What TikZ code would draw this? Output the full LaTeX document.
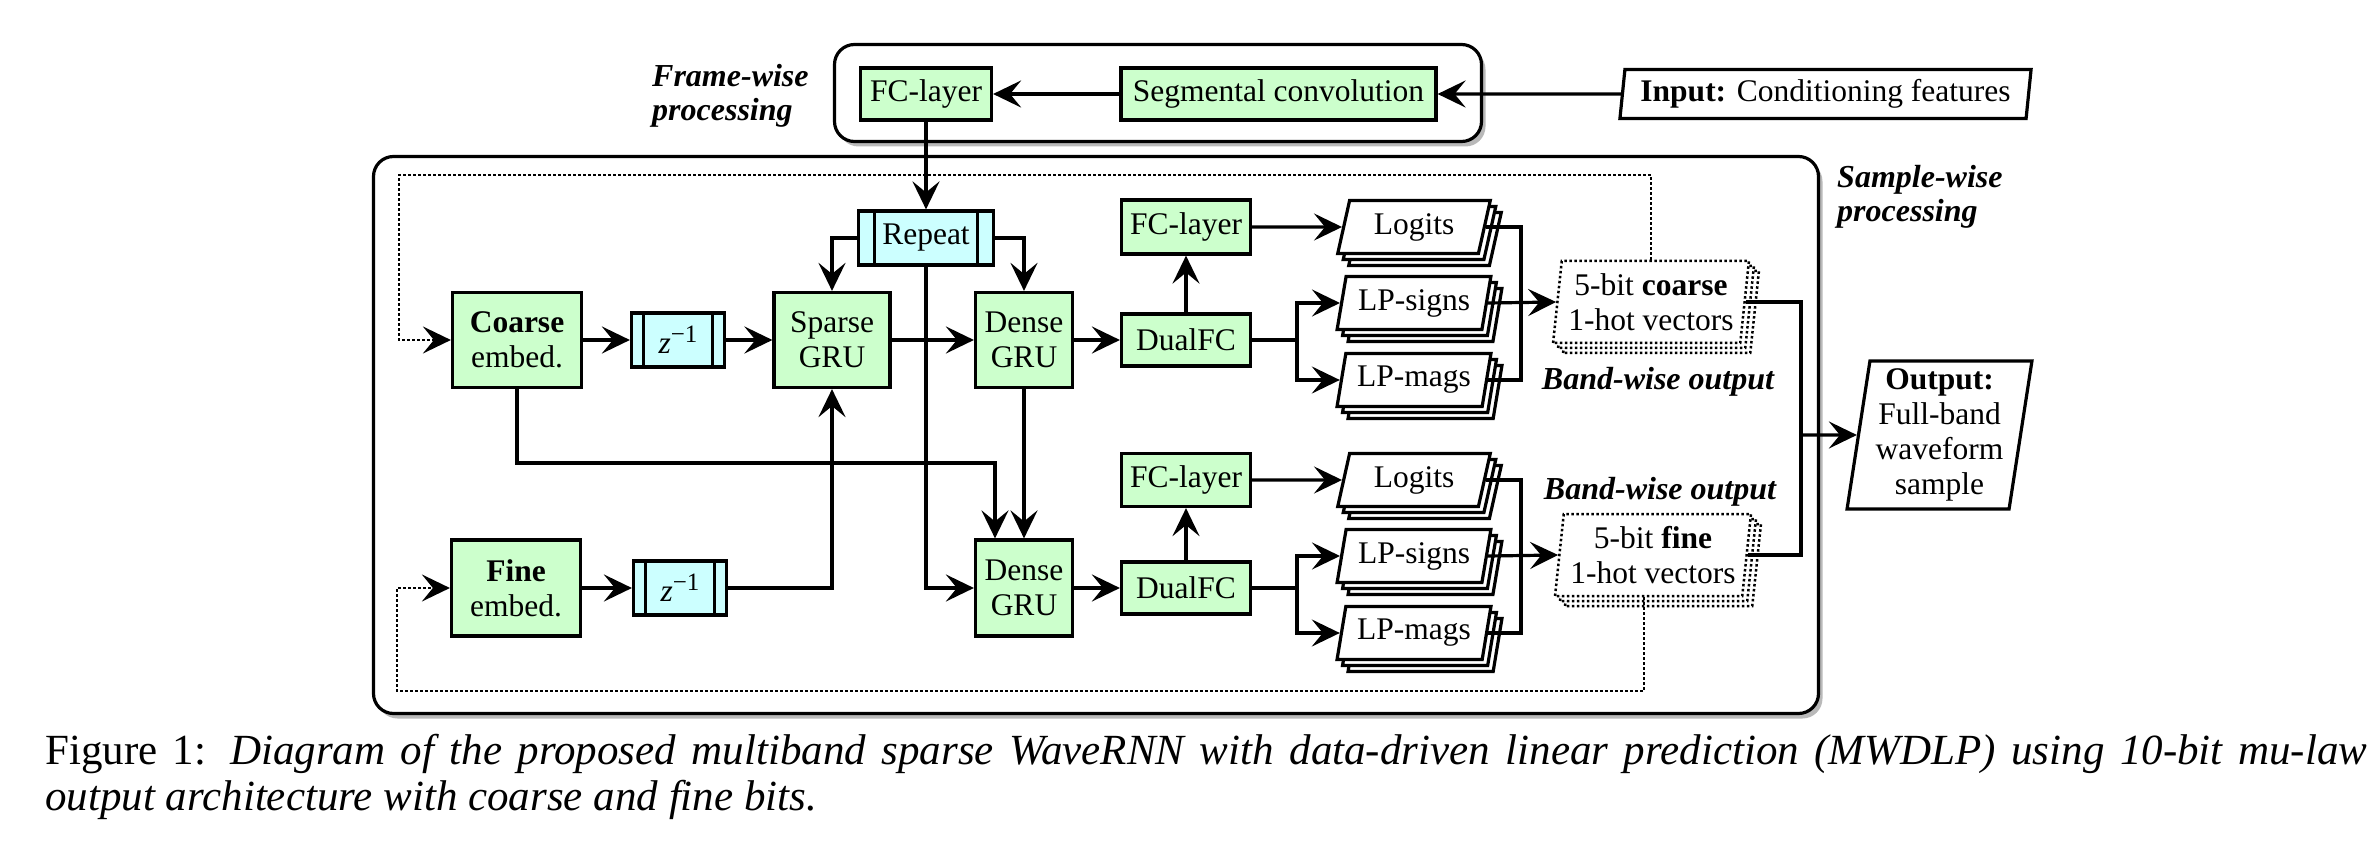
\documentclass[tikz,border=0pt]{standalone}
\usepackage{fontspec}
\setmainfont{Liberation Serif}
\usetikzlibrary{shapes.geometric,arrows.meta,shadows}
\definecolor{gfill}{RGB}{204,255,204}
\definecolor{cfill}{RGB}{204,255,255}
\tikzset{
  base/.style={draw, line width=3.2pt, inner sep=0pt, align=center, font=\fontsize{31.5}{35}\selectfont},
  gbox/.style={base, rectangle, fill=gfill},
  pbox/.style={base, rectangle, fill=cfill, path picture={
      \draw[line width=3.2pt] ([xshift=#1]path picture bounding box.north west) -- ([xshift=#1]path picture bounding box.south west);
      \draw[line width=3.2pt] ([xshift=-#1]path picture bounding box.north east) -- ([xshift=-#1]path picture bounding box.south east);}},
  stk/.style={base, trapezium, trapezium left angle=75, trapezium right angle=105, trapezium stretches=true, fill=white,
      copy shadow={shadow xshift=11pt, shadow yshift=-12pt, draw, fill=white, line width=3.2pt},
      copy shadow={shadow xshift=5.5pt, shadow yshift=-6pt, draw, fill=white, line width=3.2pt},
      minimum width=154pt, minimum height=53pt},
  dstk/.style={base, line width=2.5pt, dash pattern=on 2.5pt off 2.5pt, trapezium, trapezium left angle=82, trapezium right angle=98, trapezium stretches=true, fill=white,
      copy shadow={shadow xshift=10pt, shadow yshift=-10pt, draw, fill=white, line width=2.5pt, dash pattern=on 2.5pt off 2.5pt},
      copy shadow={shadow xshift=5pt, shadow yshift=-5pt, draw, fill=white, line width=2.5pt, dash pattern=on 2.5pt off 2.5pt},
      minimum width=196pt, minimum height=82pt},
  iobox/.style={base, trapezium, trapezium left angle=81, trapezium right angle=99, trapezium stretches=true, fill=white},
  bigbox/.style={draw, line width=3.2pt, rounded corners=20pt, fill=white, inner sep=0pt,
      drop shadow={shadow xshift=4pt, shadow yshift=-5pt, opacity=.55}},
  lbl/.style={font=\fontsize{32}{34}\selectfont\bfseries\itshape, inner sep=0pt, align=left},
  arr/.style={line width=3.2pt, -{Stealth[length=28pt, width=27pt, inset=11pt]}},
  ln/.style={line width=3.2pt},
  darr/.style={line width=2.5pt, dash pattern=on 2.5pt off 2.5pt, -{Stealth[length=28pt, width=27pt, inset=11pt]}},
  capt/.style={inner sep=0pt, anchor=base west, font=\fontsize{43}{46}\selectfont},
}
\newcommand{\zinv}{\textit{z}\raisebox{11pt}{\fontsize{25}{25}\selectfont −1}}
\begin{document}
\begin{tikzpicture}[x=1pt,y=-1pt]
\useasboundingbox (0,0) rectangle (2378,850);
\fill[white] (0,0) rectangle (2378,850);

% containers
\node[bigbox, minimum width=647pt, minimum height=97pt] (frame) at (1158,93) {};
\node[bigbox, minimum width=1445pt, minimum height=557pt] (sample) at (1096,435) {};
\node[lbl, anchor=west] (fwl) at (652,96) {Frame-wise\\processing};
\node[lbl, anchor=west] (swl) at (1837,197) {Sample-wise\\processing};

% frame-wise
\node[gbox, minimum width=131pt, minimum height=52pt] (fc0) at (926,94) {FC-layer};
\node[gbox, minimum width=315pt, minimum height=52pt] (seg) at (1278.5,94) {Segmental convolution};
\node[iobox, minimum width=413pt, minimum height=49pt] (input) at (1825.5,94) {\textbf{Input:} Conditioning features};

% upper row
\node[pbox=16pt, minimum width=135pt, minimum height=54pt] (rep) at (926,238) {Repeat};
\node[gbox, minimum width=129pt, minimum height=95pt] (coarse) at (517,340) {\textbf{Coarse}\\embed.};
\node[pbox=12pt, minimum width=93pt, minimum height=54pt] (z1) at (678,340) {\zinv};
\node[gbox, minimum width=116pt, minimum height=95pt] (sparse) at (832,340) {Sparse\\GRU};
\node[gbox, minimum width=97pt, minimum height=95pt] (dense1) at (1024,340) {Dense\\GRU};
\node[gbox, minimum width=129pt, minimum height=52pt] (dual1) at (1186,340) {DualFC};
\node[gbox, minimum width=129pt, minimum height=54pt] (fc1) at (1186,227) {FC-layer};
\node[stk] (logits1) at (1414,227) {Logits};
\node[stk] (signs1) at (1414,303) {LP-signs};
\node[stk] (mags1) at (1414,380) {LP-mags};
\node[dstk] (cbox) at (1651,302) {5-bit \textbf{coarse}\\1-hot vectors};
\node[lbl, anchor=center] (bw1) at (1658,382) {Band-wise output};

% lower row
\node[gbox, minimum width=129pt, minimum height=96pt] (fine) at (516,588) {\textbf{Fine}\\embed.};
\node[pbox=12pt, minimum width=93pt, minimum height=54pt] (z2) at (680,588) {\zinv};
\node[gbox, minimum width=97pt, minimum height=96pt] (dense2) at (1024,588) {Dense\\GRU};
\node[gbox, minimum width=129pt, minimum height=52pt] (dual2) at (1186,588) {DualFC};
\node[gbox, minimum width=129pt, minimum height=53pt] (fc2) at (1186,480) {FC-layer};
\node[stk] (logits2) at (1414,480) {Logits};
\node[stk] (signs2) at (1414,556) {LP-signs};
\node[stk] (mags2) at (1414,633) {LP-mags};
\node[dstk] (fbox) at (1653,555) {5-bit \textbf{fine}\\1-hot vectors};
\node[lbl, anchor=center] (bw2) at (1660,492) {Band-wise output};

% output
\node[iobox, minimum width=185pt, minimum height=148pt] (out) at (1939.5,435) {\textbf{Output:}\\Full-band\\waveform\\sample};

% helper coordinates
\coordinate (br1) at (1297,340);
\coordinate (br2) at (1297,588);
\coordinate (jn1) at (1521,303);
\coordinate (jn2) at (1521,556);
\coordinate (jo) at (1801,435);
\coordinate (cb) at (995,463);
\coordinate (dtl) at (399,175);
\coordinate (dbl) at (397,691);

% connectors: frame-wise
\draw[arr] (input.west) -- (seg.east);
\draw[arr] (seg.west) -- (fc0.east);
\draw[arr] (fc0.south) -- (rep.north);
\draw[arr] (rep.west) -| (sparse.north);
\draw[arr] (rep.east) -| (dense1.north);
\draw[arr] (rep.south) |- (dense2.west);

% upper chain
\draw[arr] (coarse.east) -- (z1.west);
\draw[arr] (z1.east) -- (sparse.west);
\draw[arr] (sparse.east) -- (dense1.west);
\draw[arr] (dense1.east) -- (dual1.west);
\draw[arr] (dual1.north) -- (fc1.south);
\draw[arr] (fc1.east) -- (logits1.west);
\draw[ln] (dual1.east) -- (br1);
\draw[arr] (br1) |- (signs1.west);
\draw[arr] (br1) |- (mags1.west);
\draw[ln] (logits1.east) -| (jn1) |- (mags1.east);
\draw[arr] (signs1.east) -- (cbox.west);

% cross connections
\draw[arr] (coarse.south) |- (cb) -- (cb |- dense2.north);
\draw[arr] (dense1.south) -- (dense2.north);
\draw[arr] (z2.east) -| (sparse.south);

% lower chain
\draw[arr] (fine.east) -- (z2.west);
\draw[arr] (dense2.east) -- (dual2.west);
\draw[arr] (dual2.north) -- (fc2.south);
\draw[arr] (fc2.east) -- (logits2.west);
\draw[ln] (dual2.east) -- (br2);
\draw[arr] (br2) |- (signs2.west);
\draw[arr] (br2) |- (mags2.west);
\draw[ln] (logits2.east) -| (jn2) |- (mags2.east);
\draw[arr] (signs2.east) -- (fbox.west);

% output
\draw[ln] (cbox.east) -| (jo);
\draw[ln] (fbox.east) -| (jo);
\draw[arr] (jo) -- (out.west);

% feedback (dotted)
\draw[darr] (cbox.north) |- (dtl) |- (coarse.west);
\draw[darr] ([xshift=-9pt]fbox.south) |- (dbl) |- (fine.west);

% caption
\node[capt] (cap1) at (45,764) {\makebox[2322pt][s]{Figure 1: \textit{Diagram of the proposed multiband sparse WaveRNN with data-driven linear prediction (MWDLP) using 10-bit mu-law}}};
\node[capt] (cap2) at (45,810) {\textit{output architecture with coarse and fine bits.}};
\end{tikzpicture}
\end{document}
